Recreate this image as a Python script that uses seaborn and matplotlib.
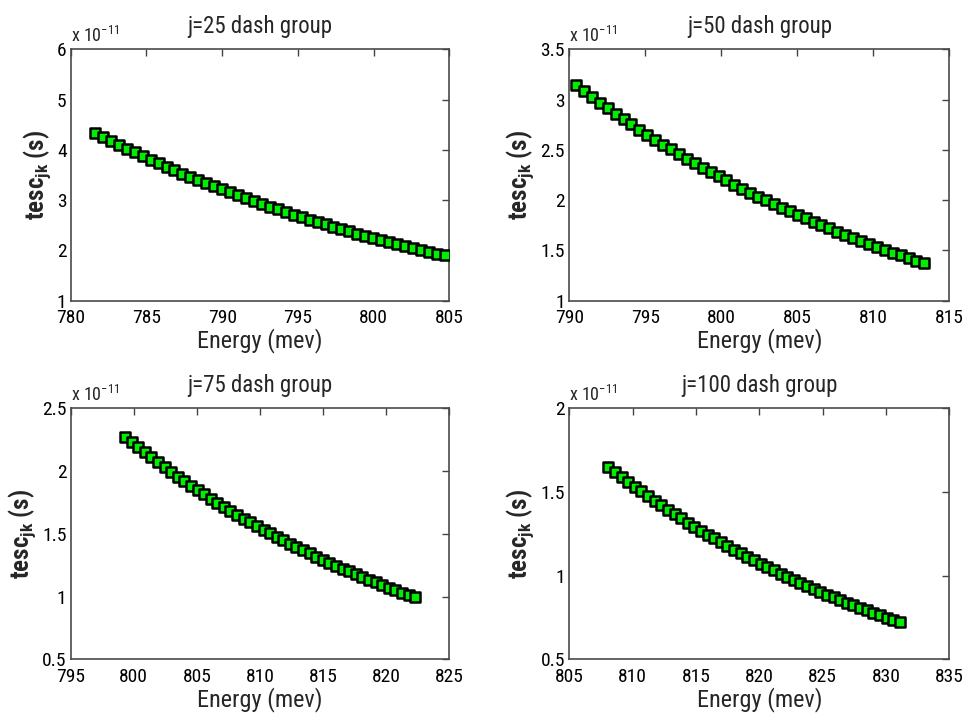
import matplotlib
matplotlib.use("Agg")
import matplotlib.pyplot as plt
import matplotlib.ticker as mticker
from matplotlib import font_manager
import seaborn as sns
import pandas as pd

# ---------------- data (tesc values in units of 1e-11 s) ----------------
titles = ["j=25 dash group", "j=50 dash group", "j=75 dash group", "j=100 dash group"]

energy_25 = [781.60, 782.13, 782.65, 783.18, 783.70, 784.23, 784.75, 785.28, 785.80, 786.33,
             786.85, 787.38, 787.90, 788.43, 788.95, 789.48, 790.00, 790.53, 791.05, 791.58,
             792.10, 792.63, 793.15, 793.68, 794.20, 794.73, 795.25, 795.78, 796.30, 796.83,
             797.35, 797.88, 798.40, 798.93, 799.45, 799.98, 800.50, 801.03, 801.55, 802.08,
             802.60, 803.13, 803.65, 804.18, 804.70]
tesc_25 = [4.340, 4.259, 4.180, 4.102, 4.026, 3.951, 3.878, 3.806, 3.735, 3.665,
           3.597, 3.530, 3.465, 3.400, 3.337, 3.275, 3.214, 3.154, 3.095, 3.038,
           2.981, 2.926, 2.871, 2.818, 2.766, 2.714, 2.664, 2.614, 2.566, 2.518,
           2.471, 2.425, 2.380, 2.336, 2.292, 2.250, 2.208, 2.167, 2.126, 2.087,
           2.048, 2.010, 1.973, 1.936, 1.900]

energy_50 = [790.44, 790.96, 791.48, 792.00, 792.52, 793.05, 793.57, 794.09, 794.61, 795.13,
             795.65, 796.17, 796.69, 797.21, 797.73, 798.26, 798.78, 799.30, 799.82, 800.34,
             800.86, 801.38, 801.90, 802.42, 802.94, 803.47, 803.99, 804.51, 805.03, 805.55,
             806.07, 806.59, 807.11, 807.63, 808.15, 808.68, 809.20, 809.72, 810.24, 810.76,
             811.28, 811.80, 812.32, 812.84, 813.36]
tesc_50 = [3.142, 3.083, 3.026, 2.969, 2.914, 2.859, 2.806, 2.754, 2.702, 2.652,
           2.602, 2.553, 2.506, 2.459, 2.413, 2.368, 2.324, 2.280, 2.238, 2.196,
           2.155, 2.115, 2.075, 2.036, 1.998, 1.961, 1.924, 1.888, 1.853, 1.819,
           1.785, 1.751, 1.719, 1.686, 1.655, 1.624, 1.594, 1.564, 1.535, 1.506,
           1.478, 1.450, 1.423, 1.397, 1.371]

energy_75 = [799.30, 799.82, 800.35, 800.87, 801.39, 801.91, 802.44, 802.96, 803.48, 804.00,
             804.53, 805.05, 805.57, 806.10, 806.62, 807.14, 807.66, 808.19, 808.71, 809.23,
             809.75, 810.28, 810.80, 811.32, 811.84, 812.37, 812.89, 813.41, 813.94, 814.46,
             814.98, 815.50, 816.03, 816.55, 817.07, 817.59, 818.12, 818.64, 819.16, 819.68,
             820.21, 820.73, 821.25, 821.78, 822.30]
tesc_75 = [2.274, 2.232, 2.190, 2.149, 2.109, 2.070, 2.031, 1.994, 1.956, 1.920,
           1.884, 1.849, 1.815, 1.781, 1.748, 1.715, 1.683, 1.652, 1.621, 1.591,
           1.561, 1.532, 1.504, 1.476, 1.448, 1.421, 1.395, 1.369, 1.343, 1.318,
           1.294, 1.270, 1.246, 1.223, 1.200, 1.178, 1.156, 1.134, 1.113, 1.092,
           1.072, 1.052, 1.032, 1.013, 0.994]

energy_100 = [808.08, 808.60, 809.13, 809.65, 810.17, 810.70, 811.22, 811.74, 812.26, 812.79,
              813.31, 813.83, 814.36, 814.88, 815.40, 815.93, 816.45, 816.97, 817.49, 818.02,
              818.54, 819.06, 819.59, 820.11, 820.63, 821.16, 821.68, 822.20, 822.72, 823.25,
              823.77, 824.29, 824.82, 825.34, 825.86, 826.39, 826.91, 827.43, 827.95, 828.48,
              829.00, 829.52, 830.05, 830.57, 831.09]
tesc_100 = [1.651, 1.620, 1.590, 1.560, 1.531, 1.503, 1.475, 1.447, 1.420, 1.394,
            1.368, 1.342, 1.317, 1.293, 1.269, 1.245, 1.222, 1.199, 1.177, 1.155,
            1.133, 1.112, 1.091, 1.071, 1.051, 1.031, 1.012, 0.993, 0.975, 0.957,
            0.939, 0.921, 0.904, 0.887, 0.871, 0.854, 0.838, 0.823, 0.808, 0.792,
            0.778, 0.763, 0.749, 0.735, 0.721]

energies = [energy_25, energy_50, energy_75, energy_100]
tescs = [tesc_25, tesc_50, tesc_75, tesc_100]
xlims = [(780, 805), (790, 815), (795, 825), (805, 835)]
ylims = [(1, 6), (1, 3.5), (0.5, 2.5), (0.5, 2)]
ysteps = [1, 0.5, 0.5, 0.5]

# ---------------- style ----------------
sns.set_style("white")
avail = {f.name for f in font_manager.fontManager.ttflist}
fam = [f for f in ["Roboto Condensed", "Liberation Sans Narrow", "Arial Narrow",
                   "Liberation Sans", "DejaVu Sans"] if f in avail]
plt.rcParams["font.family"] = fam

fig = plt.figure(figsize=(9.66, 7.21), dpi=100)
positions = [
    [0.0732, 0.5829, 0.3919, 0.3487],
    [0.5893, 0.5829, 0.3934, 0.3487],
    [0.0732, 0.0856, 0.3919, 0.3481],
    [0.5893, 0.0856, 0.3934, 0.3481],
]

for i in range(4):
    ax = fig.add_axes(positions[i])
    df = pd.DataFrame({"Energy": energies[i], "tesc": tescs[i]})
    sns.scatterplot(data=df, x="Energy", y="tesc", ax=ax, marker="s", s=48,
                    color="#00ee00", edgecolor="black", linewidth=1.8, legend=False, zorder=3)
    ax.set_xlim(*xlims[i])
    ax.set_ylim(*ylims[i])
    ax.xaxis.set_major_locator(mticker.MultipleLocator(5))
    ax.yaxis.set_major_locator(mticker.MultipleLocator(ysteps[i]))
    ax.yaxis.set_major_formatter(mticker.FuncFormatter(lambda v, p: f"{v:g}"))
    ax.xaxis.set_major_formatter(mticker.FuncFormatter(lambda v, p: f"{v:g}"))
    ax.tick_params(direction="in", length=5, width=1.0, top=True, right=True,
                   labelsize=14, colors="#444444", labelcolor="black")
    ax.tick_params(axis="x", pad=6)
    ax.tick_params(axis="y", pad=3)
    for sp in ax.spines.values():
        sp.set_color("#4a4a4a")
        sp.set_linewidth(1.2)
    ax.set_title(titles[i], fontsize=16.5, pad=12)
    ax.set_xlabel("Energy (mev)", fontsize=17.5, labelpad=1)
    ax.set_ylabel("tesc$_{\\mathregular{jk}}$ (s)", fontsize=18, fontweight="bold", labelpad=3)
    ax.text(0.0, 1.012, "x 10$^{\\mathregular{-11}}$", transform=ax.transAxes,
            fontsize=13, ha="left", va="bottom")

fig.savefig("out.png", dpi=100)
